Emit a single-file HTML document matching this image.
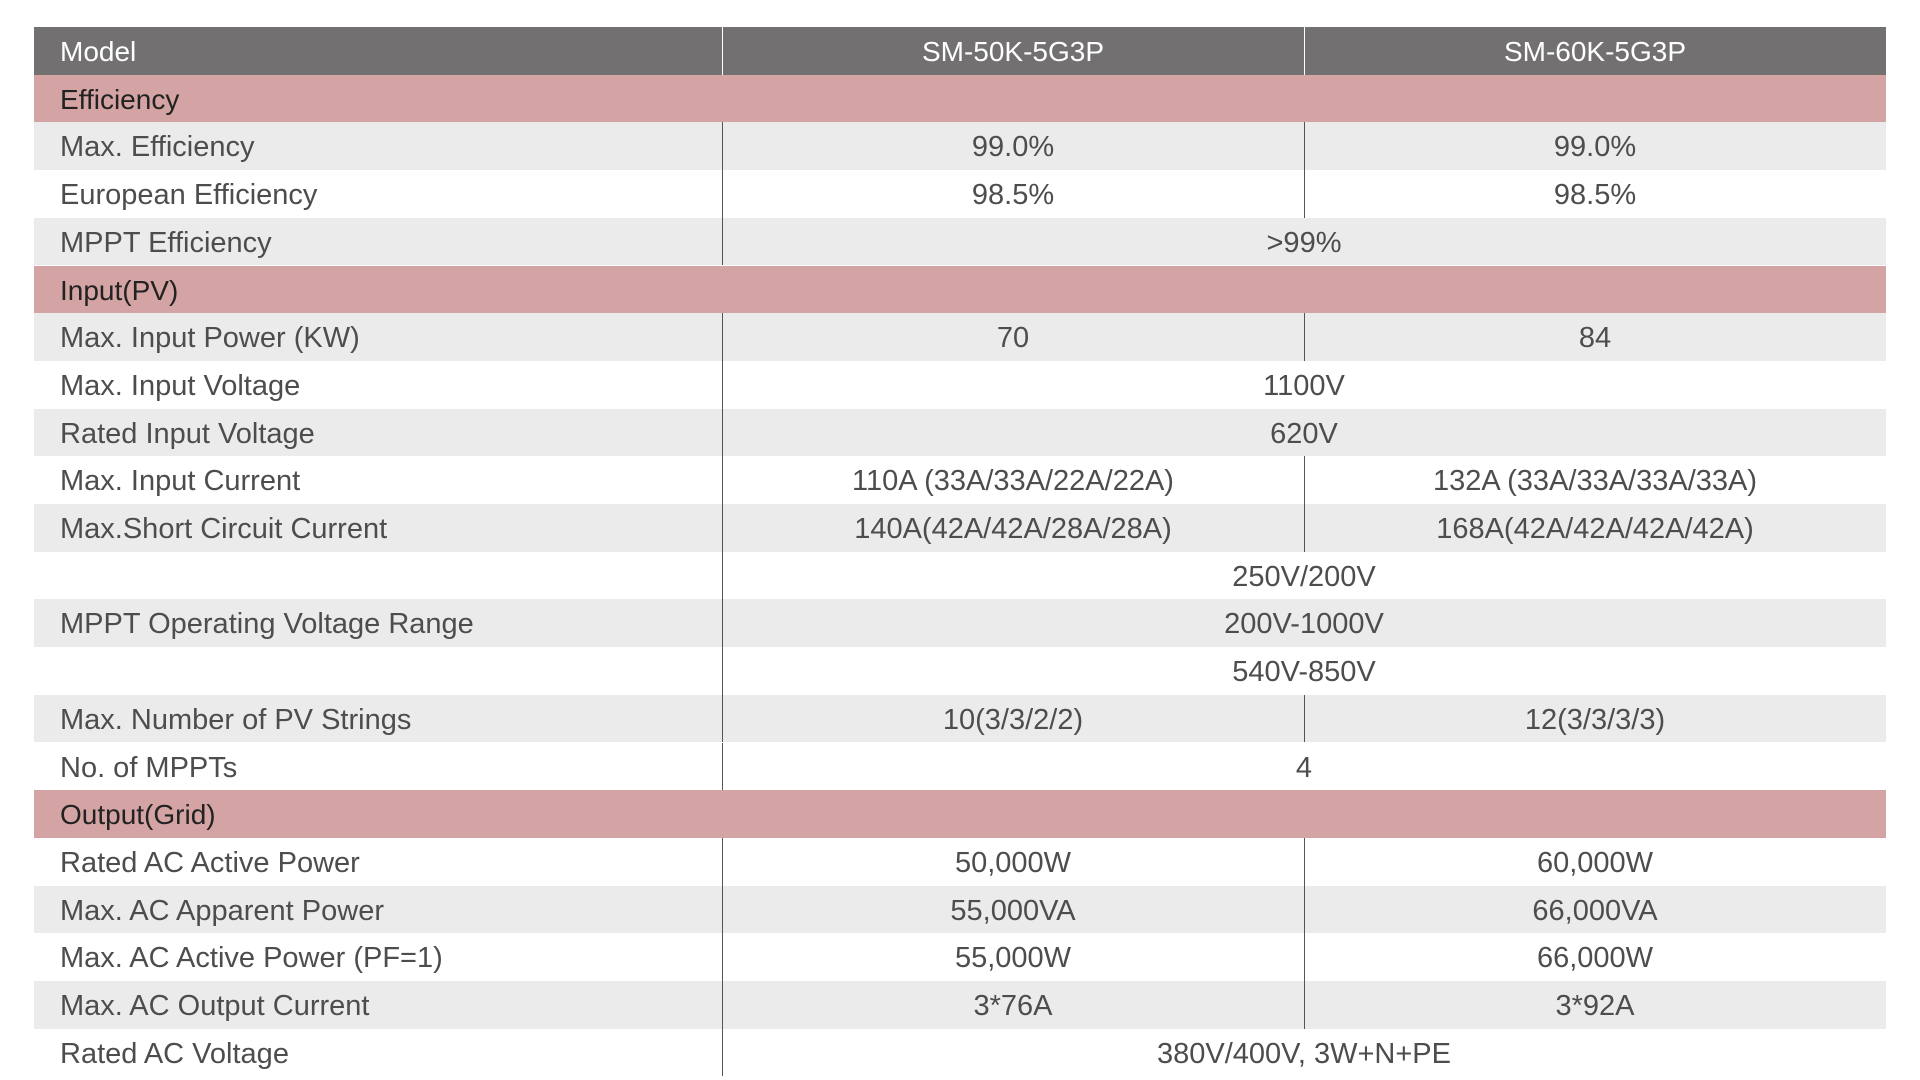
<!DOCTYPE html>
<html><head><meta charset="utf-8">
<style>
html,body{margin:0;padding:0;width:1920px;height:1080px;background:#fff;overflow:hidden;}
#tbl{position:absolute;left:34px;top:27px;width:1852px;}
.row{position:absolute;left:0;width:1852px;height:47.7px;}
.cell{position:absolute;top:0;height:47.7px;line-height:50px;font-family:"Liberation Sans Narrow","Liberation Sans",sans-serif;font-size:29px;color:#4d4d4d;white-space:nowrap;text-align:center;}
.lbl{left:26px;text-align:left;}
.hdr{background:#727070;}
.hdr .cell{color:#fff;font-family:"Liberation Sans",sans-serif;font-size:28px;font-weight:normal;}
.sec{background:#d4a3a3;}
.sec .cell{color:#222;font-family:"Liberation Sans",sans-serif;font-size:28px;}
.g{background:#ebebeb;}
.w{background:#fff;}
.vl{position:absolute;width:1px;background:#555;}
</style></head><body>
<div id="tbl"></div>
<script>
const rows = [
 ["hdr","Model","SM-50K-5G3P","SM-60K-5G3P"],
 ["sec","Efficiency"],
 ["g","Max. Efficiency","99.0%","99.0%"],
 ["w","European Efficiency","98.5%","98.5%"],
 ["g","MPPT Efficiency",">99%"],
 ["sec","Input(PV)"],
 ["g","Max. Input Power (KW)","70","84"],
 ["w","Max. Input Voltage","1100V"],
 ["g","Rated Input Voltage","620V"],
 ["w","Max. Input Current","110A (33A/33A/22A/22A)","132A (33A/33A/33A/33A)"],
 ["g","Max.Short Circuit Current","140A(42A/42A/28A/28A)","168A(42A/42A/42A/42A)"],
 ["w","","250V/200V"],
 ["g","MPPT Operating Voltage Range","200V-1000V"],
 ["w","","540V-850V"],
 ["g","Max. Number of PV Strings","10(3/3/2/2)","12(3/3/3/3)"],
 ["w","No. of MPPTs","4"],
 ["sec","Output(Grid)"],
 ["w","Rated AC Active Power","50,000W","60,000W"],
 ["g","Max. AC Apparent Power","55,000VA","66,000VA"],
 ["w","Max. AC Active Power (PF=1)","55,000W","66,000W"],
 ["g","Max. AC Output Current","3*76A","3*92A"],
 ["w","Rated AC Voltage","380V/400V, 3W+N+PE"]
];
const tbl=document.getElementById('tbl');
const RH=47.7, C1=688, C2=1270, W=1852;
rows.forEach((r,i)=>{
  const row=document.createElement('div');
  row.className='row '+r[0];
  row.style.top=(i*RH)+'px';
  
  
  const l=document.createElement('div');
  l.className='cell lbl';
  l.textContent=r[1];
  
  
  row.appendChild(l);
  if(r[0]!=='sec'){
    const line=document.createElement('div');
    line.className='vl';
    line.style.left=C1+'px';line.style.top='0';line.style.height=RH+'px';
    if(r[0]==='hdr') line.style.background='#fff';
    
    
    row.appendChild(line);
    if(r.length===4){
      const a=document.createElement('div');
      a.className='cell';a.style.left=C1+'px';a.style.width=(C2-C1)+'px';a.textContent=r[2];
      
      
      row.appendChild(a);
      const b=document.createElement('div');
      b.className='cell';b.style.left=C2+'px';b.style.width=(W-C2)+'px';b.textContent=r[3];
      
      
      row.appendChild(b);
      const l2=document.createElement('div');
      l2.className='vl';
      l2.style.left=C2+'px';l2.style.top='0';l2.style.height=RH+'px';
      if(r[0]==='hdr') l2.style.background='#fff';
      
      
      row.appendChild(l2);
    } else if(r.length===3){
      const a=document.createElement('div');
      a.className='cell';a.style.left=C1+'px';a.style.width=(W-C1)+'px';a.textContent=r[2];
      
      
      row.appendChild(a);
    }
  }
  tbl.appendChild(row);
});
</script>
</body></html>
